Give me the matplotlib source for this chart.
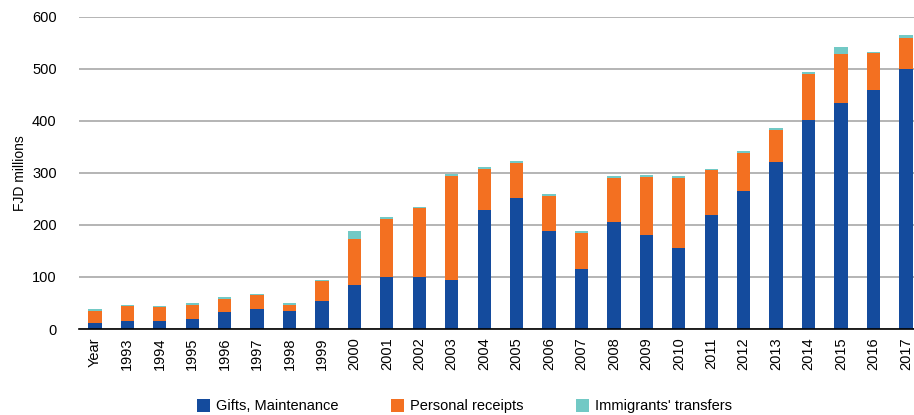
import matplotlib.pyplot as plt
import numpy as np

plt.rcParams['font.family'] = ['Liberation Sans', 'DejaVu Sans']

years = ['Year', '1993', '1994', '1995', '1996', '1997', '1998', '1999', '2000',
         '2001', '2002', '2003', '2004', '2005', '2006', '2007', '2008', '2009',
         '2010', '2011', '2012', '2013', '2014', '2015', '2016', '2017']
gifts = [11, 15, 15, 20, 32, 39, 35, 54, 84, 100, 100, 95, 228, 252, 188, 115,
         205, 181, 156, 220, 266, 322, 402, 435, 459, 500]
personal = [24, 30, 27, 27, 26, 26, 12, 38, 90, 112, 132, 200, 80, 68, 68, 70,
            86, 112, 135, 85, 73, 61, 89, 93, 71, 59]
immigrants = [3, 2, 3, 3, 3, 2, 3, 2, 15, 3, 3, 3, 3, 3, 3, 3,
              3, 3, 3, 3, 3, 3, 3, 14, 3, 6]

c_blue = '#144b9d'
c_orange = '#f37021'
c_teal = '#72c9c5'

fig = plt.figure(figsize=(9.14, 4.15), dpi=100)
ax = fig.add_axes([0.0864, 0.2072, 0.9136, 0.752])

x = np.arange(len(years))
g = np.array(gifts)
p = np.array(personal)
im = np.array(immigrants)
w = 0.41
ax.bar(x, g, w, color=c_blue, label='Gifts, Maintenance')
ax.bar(x, p, w, bottom=g, color=c_orange, label='Personal receipts')
ax.bar(x, im, w, bottom=g + p, color=c_teal, label="Immigrants' transfers")

ax.set_ylim(0, 600)
ax.set_xlim(-0.49, len(years) - 0.75)
ax.set_yticks(range(0, 601, 100))
ax.yaxis.grid(True, color='#a0a0a0', linewidth=1.1)
ax.set_axisbelow(True)
for s in ['top', 'right', 'left']:
    ax.spines[s].set_visible(False)
ax.spines['bottom'].set_color('black')
ax.spines['bottom'].set_linewidth(1.2)

ax.set_xticks(x)
ax.set_xticklabels(years, rotation=90, fontsize=10.5)
ax.tick_params(axis='both', length=0, labelsize=10.5, colors='black')
ax.tick_params(axis='x', pad=6)
ax.tick_params(axis='y', pad=16)
ax.set_ylabel('FJD millions', fontsize=10, labelpad=4)

fig.legend(loc='lower center', bbox_to_anchor=(0.508, -0.028), ncol=3, frameon=False,
           handlelength=0.9, handleheight=0.9, handletextpad=0.4, columnspacing=3.6,
           fontsize=10.5)

fig.savefig('out.png', dpi=100)
